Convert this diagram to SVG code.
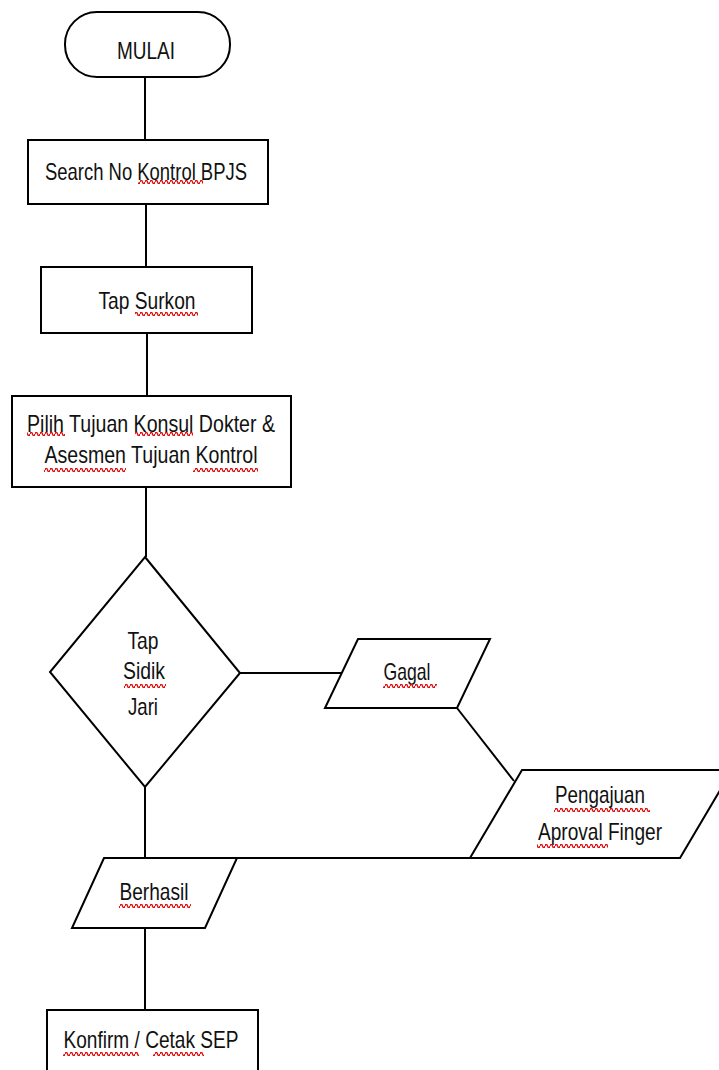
<svg xmlns="http://www.w3.org/2000/svg" width="719" height="1070" viewBox="0 0 719 1070">
<style>
.s{fill:#fff;stroke:#000;stroke-width:2}
.c{stroke:#000;stroke-width:2;fill:none}
text{font-family:"Liberation Sans",Arial,sans-serif;font-size:24px;fill:#111;text-anchor:middle}
.w{fill:url(#wave)}
</style>
<defs>
<pattern id="wave" x="0" y="0" width="5" height="4" patternUnits="userSpaceOnUse">
<path d="M0,2 Q1.25,-1.6 2.5,2 T5,2" fill="none" stroke="#e01010" stroke-width="1.4"/>
</pattern>
</defs>
<rect width="719" height="1070" fill="#fff"/>
<g id="connectors">
<line class="c" x1="145" y1="77" x2="145" y2="140"/>
<line class="c" x1="146" y1="204" x2="146" y2="267"/>
<line class="c" x1="147" y1="333" x2="147" y2="396"/>
<line class="c" x1="146" y1="487" x2="146" y2="557"/>
<line class="c" x1="240" y1="673" x2="342" y2="673"/>
<line class="c" x1="457" y1="708" x2="514" y2="781"/>
<line class="c" x1="145" y1="787" x2="145" y2="858"/>
<line class="c" x1="237" y1="858" x2="470" y2="858"/>
<line class="c" x1="145" y1="928" x2="145" y2="1010"/>
</g>
<g id="mulai">
<rect class="s" x="65" y="12" width="165" height="65" rx="32" ry="32"/>
<text x="146" y="59" textLength="58" lengthAdjust="spacingAndGlyphs">MULAI</text>
</g>
<g id="search">
<rect class="s" x="28" y="140" width="240" height="64"/>
<text x="146" y="180" textLength="202" lengthAdjust="spacingAndGlyphs">Search No Kontrol BPJS</text>
<rect class="w" x="138" y="180" width="65" height="4"/>
</g>
<g id="surkon">
<rect class="s" x="41" y="267" width="211" height="66"/>
<text x="147" y="309" textLength="97" lengthAdjust="spacingAndGlyphs">Tap Surkon</text>
<rect class="w" x="135" y="312" width="63" height="4"/>
</g>
<g id="pilih">
<rect class="s" x="12" y="396" width="279" height="91"/>
<text x="151" y="432" textLength="248" lengthAdjust="spacingAndGlyphs">Pilih Tujuan Konsul Dokter &amp;</text>
<text x="151" y="463" textLength="213" lengthAdjust="spacingAndGlyphs">Asesmen Tujuan Kontrol</text>
<rect class="w" x="27" y="432" width="38" height="4"/>
<rect class="w" x="135" y="432" width="58" height="4"/>
<rect class="w" x="44" y="468" width="82" height="4"/>
<rect class="w" x="193" y="468" width="65" height="4"/>
</g>
<g id="sidik">
<polygon class="s" points="145,557 240,673 145,787 50,672"/>
<text x="143" y="649" textLength="31" lengthAdjust="spacingAndGlyphs">Tap</text>
<text x="144" y="679" textLength="42" lengthAdjust="spacingAndGlyphs">Sidik</text>
<text x="143" y="715" textLength="30" lengthAdjust="spacingAndGlyphs">Jari</text>
<rect class="w" x="124" y="684" width="42" height="4"/>
</g>
<g id="gagal">
<polygon class="s" points="358,639 490,639 457,708 325,708"/>
<text x="407" y="680" textLength="47" lengthAdjust="spacingAndGlyphs">Gagal</text>
<rect class="w" x="383" y="684" width="54" height="4"/>
</g>
<g id="pengajuan">
<polygon class="s" points="522,770 732,770 680,858 470,858"/>
<text x="600" y="803" textLength="90" lengthAdjust="spacingAndGlyphs">Pengajuan</text>
<text x="600" y="840" textLength="124" lengthAdjust="spacingAndGlyphs">Aproval Finger</text>
<rect class="w" x="554" y="808" width="96" height="4"/>
<rect class="w" x="537" y="844" width="71" height="4"/>
</g>
<g id="berhasil">
<polygon class="s" points="104,858 237,858 205,928 72,928"/>
<text x="154" y="900" textLength="69" lengthAdjust="spacingAndGlyphs">Berhasil</text>
<rect class="w" x="119" y="904" width="72" height="4"/>
</g>
<g id="konfirm">
<rect class="s" x="47" y="1010" width="211" height="70"/>
<text x="151" y="1048" textLength="175" lengthAdjust="spacingAndGlyphs">Konfirm / Cetak SEP</text>
<rect class="w" x="63" y="1052" width="76" height="4"/>
<rect class="w" x="153" y="1052" width="51" height="4"/>
</g>
</svg>
